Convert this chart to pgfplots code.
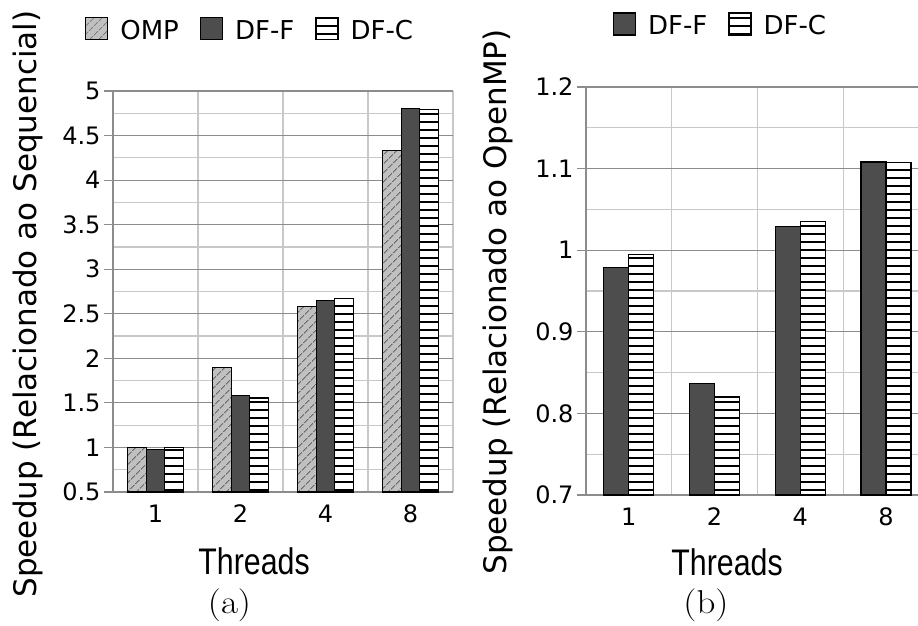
\documentclass[border=0pt]{standalone}
\usepackage{fontspec}
\usepackage{graphicx}
\usepackage{pgfplots}
\pgfplotsset{compat=1.18}
\usetikzlibrary{patterns.meta}
\newfontfamily\dejavu{DejaVu Sans}
\newfontfamily\libsans{Liberation Sans}
\definecolor{dff}{HTML}{4D4D4D}
\definecolor{omp}{HTML}{C0C0C0}
\definecolor{majgrid}{HTML}{8C8C8C}
\definecolor{mingrid}{HTML}{C8C8C8}

\pgfplotstableread{
x omp dff dfc
0 1.00 0.98 1.00
1 1.90 1.58 1.555
2 2.58 2.65 2.67
3 4.33 4.80 4.79
}\lefttab
\pgfplotstableread{
x dff dfc
0 0.979 0.995
1 0.837 0.820
2 1.029 1.035
3 1.108 1.107
}\righttab

\pgfplotsset{
  mystyle/.style={
    scale only axis,
    clip mode=individual,
    axis x line*=bottom, axis y line*=left,
    axis line style={draw=majgrid, line width=1.2pt, -},
    xtick={0,1,2,3}, xticklabels={1,2,4,8},
    xtick pos=bottom, ytick pos=left,
    xminorgrids=true,
    ymajorgrids=true, yminorgrids=true,
    minor y tick num=1,
    major grid style={draw=majgrid, line width=1.2pt},
    minor grid style={draw=mingrid, line width=1.2pt},
    tick align=outside,
    major tick length=9pt, minor tick length=0pt,
    xtick style={draw=none},
    ytick style={draw=majgrid, line width=1.2pt},
    tick label style={font=\dejavu\fontsize{24}{24}\selectfont},
    /pgf/number format/assume math mode=true,
    ylabel style={font=\dejavu\fontsize{31}{31}\selectfont, anchor=center},
    xlabel style={font=\libsans\fontsize{37}{37}\selectfont, anchor=center},
    xlabel={\scalebox{0.82}[1]{Threads}},
    legend style={draw=none, fill=none, inner sep=0pt, outer sep=0pt,
      anchor=north west,
      cells={anchor=base west},
      nodes={inner sep=0pt, text depth=0pt},
      font=\dejavu\fontsize{26}{26}\selectfont,
      /tikz/every odd column/.append style={column sep=12pt},
      /tikz/every even column/.append style={column sep=21pt}},
    ybar,
  },
  sq/.style={legend image code/.code={\draw[##1, line width=1.2pt] (0pt,0pt) rectangle (22pt,22pt);}},
  ompstyle/.style={draw=black, line width=1.2pt, fill=omp,
    postaction={pattern={Lines[angle=45,distance=6.4pt,line width=0.8pt]}, pattern color=black!75}},
  dffstyle/.style={draw=black, line width=1.2pt, fill=dff},
  dfcstyle/.style={draw=black, line width=1.2pt, fill=white,
    postaction={pattern={Lines[angle=0,distance=8pt,line width=1.1pt]}, pattern color=black}},
}

\begin{document}
\begin{tikzpicture}
\path[use as bounding box] (0pt,0pt) rectangle (918pt,-626pt);

\begin{axis}[mystyle,
  at={(113pt,-492pt)}, anchor=south west,
  width=340pt, height=401pt,
  xmin=-0.5, xmax=3.5, ymin=0.5, ymax=5,
  ytick={0.5,1,1.5,2,2.5,3,3.5,4,4.5,5},
  minor xtick={0.5,1.5,2.5,3.5},
  bar width=0.22,
  ylabel={Speedup (Relacionado ao Sequencial)},
  ylabel style={at={(axis description cs:-0.25,0.469)}},
  xlabel style={at={(axis description cs:0.415,-0.172)}},
  legend columns=3,
  legend style={at={(axis description cs:-0.082,1.184)}},
]
\addplot[ompstyle, sq, bar shift=-0.22] table[x=x, y=omp] {\lefttab};
\addlegendentry{OMP}
\addplot[dffstyle, sq, bar shift=0] table[x=x, y=dff] {\lefttab};
\addlegendentry{DF-F}
\addplot[dfcstyle, sq, bar shift=0.22] table[x=x, y=dfc] {\lefttab};
\addlegendentry{DF-C}
\end{axis}

\begin{axis}[mystyle,
  at={(586pt,-495pt)}, anchor=south west,
  width=332pt, height=408pt,
  xmin=-0.5, xmax=3.374, ymin=0.7, ymax=1.2,
  ytick={0.7,0.8,0.9,1,1.1,1.2},
  minor xtick={0.5,1.5,2.5},
  bar width=0.292,
  ylabel={Speedup (Relacionado ao OpenMP)},
  ylabel style={at={(axis description cs:-0.265,0.473)}},
  xlabel style={at={(axis description cs:0.425,-0.164)}},
  legend columns=2,
  legend style={at={(axis description cs:0.081,1.183)}},
]
\addplot[dffstyle, sq, bar shift=-0.146] table[x=x, y=dff] {\righttab};
\addlegendentry{DF-F}
\addplot[dfcstyle, sq, bar shift=0.146] table[x=x, y=dfc] {\righttab};
\addlegendentry{DF-C}
\end{axis}

\node[font=\fontsize{33}{33}\selectfont] at (229.5pt,-605pt) {\scalebox{1.12}[1]{(a)}};
\node[font=\fontsize{33}{33}\selectfont] at (706pt,-605pt) {\scalebox{1.12}[1]{(b)}};
\end{tikzpicture}
\end{document}
